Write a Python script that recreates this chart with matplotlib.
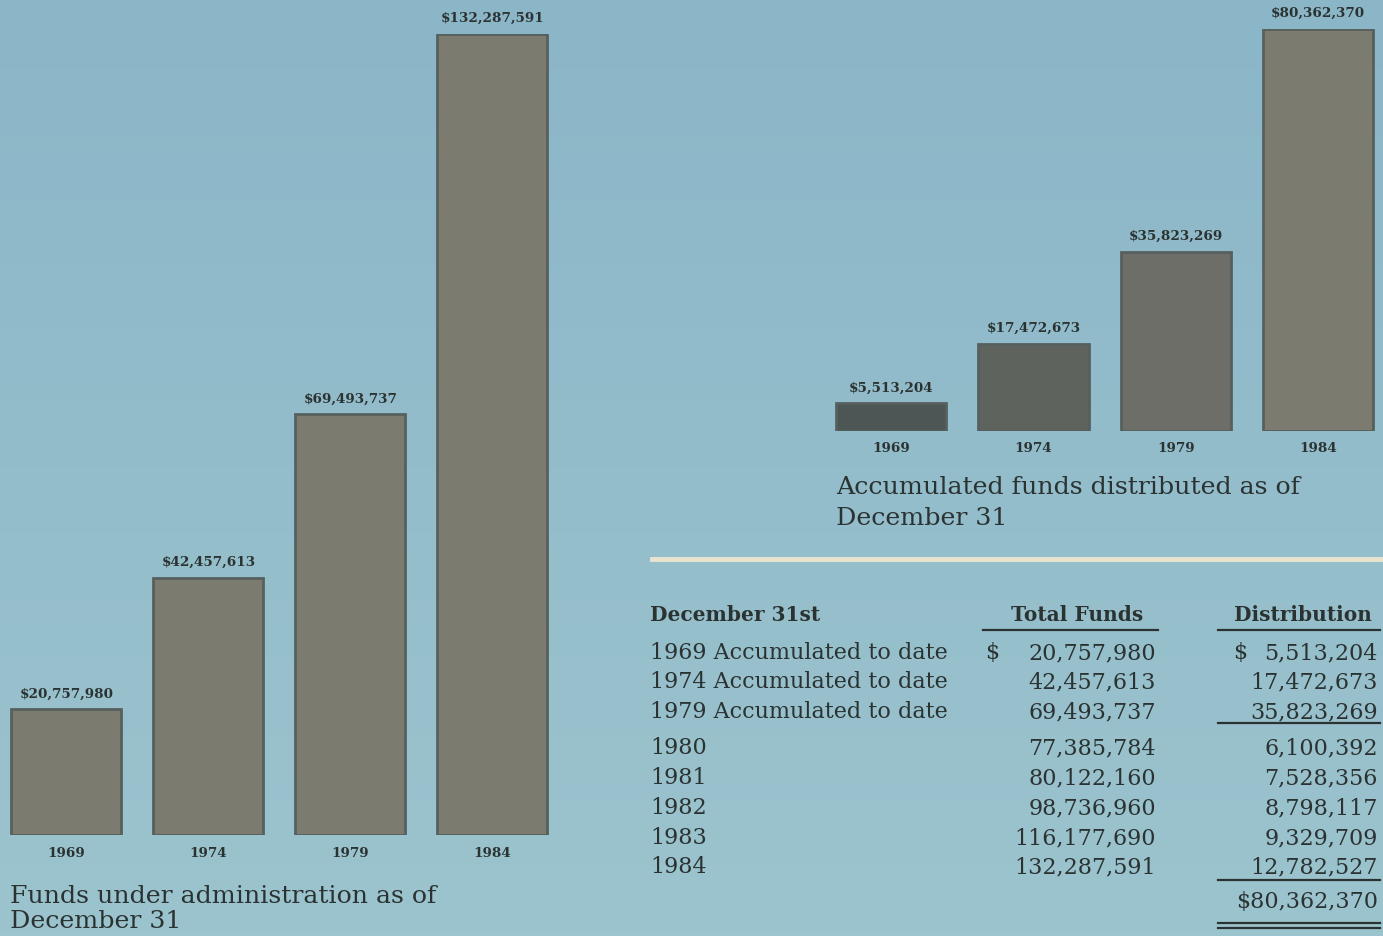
import numpy as np
import matplotlib.pyplot as plt
from matplotlib.colors import LinearSegmentedColormap

W, H = 1383, 937

years = ['1969', '1974', '1979', '1984']
funds_total = [20757980, 42457613, 69493737, 132287591]
funds_distributed = [5513204, 17472673, 35823269, 80362370]

table_rows = ['1969 Accumulated to date', '1974 Accumulated to date', '1979 Accumulated to date',
              '1980', '1981', '1982', '1983', '1984']
table_total = ['20,757,980', '42,457,613', '69,493,737', '77,385,784',
               '80,122,160', '98,736,960', '116,177,690', '132,287,591']
table_dist = ['5,513,204', '17,472,673', '35,823,269', '6,100,392',
              '7,528,356', '8,798,117', '9,329,709', '12,782,527']
dist_sum = '$80,362,370'

bg = '#93bccb'
ink = '#2b3332'
serif = ['DejaVu Serif']


def fx(x):
    return x / W


def fy(y):
    return 1 - y / H


def money(v):
    return '${:,}'.format(v)


fig = plt.figure(figsize=(W / 100, H / 100), dpi=100, facecolor=bg)

# soft background gradient
bgax = fig.add_axes([0, 0, 1, 1], zorder=-10)
grad = np.linspace(0, 1, 256).reshape(-1, 1)
cm = LinearSegmentedColormap.from_list('bgc', ['#8bb6c8', '#9cc4ce'])
bgax.imshow(grad, aspect='auto', cmap=cm, extent=[0, 1, 0, 1], origin='upper')
bgax.axis('off')


def bar_panel(rect, values, colors, xlim, labelpad):
    ax = fig.add_axes(rect)
    x = np.arange(len(values))
    bars = ax.bar(x, values, width=0.775, color=colors, edgecolor='#56605e', linewidth=2)
    ax.set_xlim(*xlim)
    ax.set_ylim(0, max(values))
    ax.bar_label(bars, labels=[money(v) for v in values], padding=7,
                 fontsize=9.7, fontweight='bold', color=ink, family=serif)
    ax.set_xticks(x)
    ax.set_xticklabels(years, fontsize=9.7, fontweight='bold', color=ink, family=serif)
    ax.tick_params(axis='x', length=0, pad=labelpad)
    ax.set_yticks([])
    for s in ax.spines.values():
        s.set_visible(False)
    ax.patch.set_alpha(0)
    return ax


# left panel: bottom at y=836, top of largest bar at y=35
bar_panel([0, fy(836), 568 / W, 801 / H], funds_total,
          ['#7b7b70'] * 4, (-0.468, 3.532), 8)
fig.text(fx(10), fy(909), 'Funds under administration as of\nDecember 31',
         fontsize=18.2, color=ink, family=serif, va='center', linespacing=1.08)

# right panel: bottom at y=432, top of largest bar at y=30
bar_panel([fx(820), fy(432), 563 / W, 402 / H], funds_distributed,
          ['#4c5755', '#5f635e', '#6c6e67', '#7b7b70'], (-0.5, 3.457), 7)
fig.text(fx(836), fy(503), 'Accumulated funds distributed as of\nDecember 31',
         fontsize=18.2, color=ink, family=serif, va='center', linespacing=1.4)

# separator
fig.add_artist(plt.Line2D([fx(652), fx(1383)], [fy(560), fy(560)], color='#e8e4cf', lw=3.5))

# table
fs = 16
hfs = 14.5
fig.text(fx(650), fy(615), 'December 31st', fontsize=hfs, fontweight='bold', color=ink,
         family=serif, va='center')
fig.text(fx(1077), fy(615), 'Total Funds', fontsize=hfs, fontweight='bold', color=ink,
         family=serif, va='center', ha='center')
fig.text(fx(1372), fy(615), 'Distribution', fontsize=hfs, fontweight='bold', color=ink,
         family=serif, va='center', ha='right')

row_y = [653, 682, 712, 748, 778, 808, 838, 867]
for i, (lab, t, d) in enumerate(zip(table_rows, table_total, table_dist)):
    y = fy(row_y[i])
    fig.text(fx(650), y, lab, fontsize=fs, color=ink, family=serif, va='center')
    fig.text(fx(1156), y, t, fontsize=fs, color=ink, family=serif, va='center', ha='right')
    fig.text(fx(1378), y, d, fontsize=fs, color=ink, family=serif, va='center', ha='right')
    if i == 0:
        fig.text(fx(985), y, '$', fontsize=fs, color=ink, family=serif, va='center')
        fig.text(fx(1233), y, '$', fontsize=fs, color=ink, family=serif, va='center')
fig.text(fx(1378), fy(902), dist_sum, fontsize=fs, color=ink, family=serif, va='center', ha='right')


def hline(x0, x1, y, lw=1.6):
    fig.add_artist(plt.Line2D([fx(x0), fx(x1)], [fy(y), fy(y)], color=ink, lw=lw))


hline(983, 1158, 631)
hline(1218, 1380, 631)
hline(1218, 1380, 724)
hline(1218, 1380, 881)
hline(1218, 1380, 924)
hline(1218, 1380, 929)

fig.savefig('out.png', dpi=100, facecolor=bg)
